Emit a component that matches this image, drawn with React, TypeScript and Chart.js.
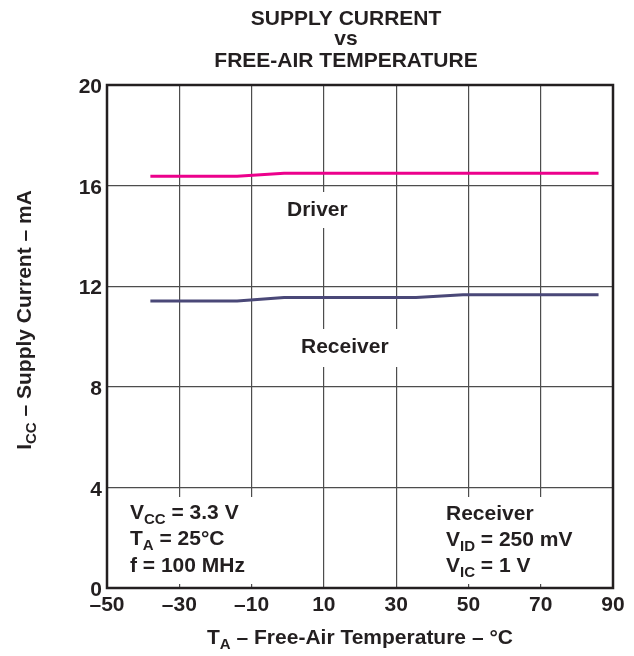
import React, { useEffect, useRef } from 'react';
import { Chart, registerables } from 'chart.js';

Chart.register(...registerables);

// ---- data ----
const driverTemps = [-38, -14, -1, 86];
const driverCurrent = [16.37, 16.37, 16.49, 16.49];
const receiverTemps = [-38, -14, -1, 35.5, 48.5, 86];
const receiverCurrent = [11.41, 11.41, 11.55, 11.55, 11.66, 11.66];
const xTicks = [-50, -30, -10, 10, 30, 50, 70, 90];
const yTicks = [0, 4, 8, 12, 16, 20];
const titleLines = ['SUPPLY CURRENT', 'vs', 'FREE-AIR TEMPERATURE'];
const seriesNames = ['Driver', 'Receiver'];

const FONT = '"Liberation Sans", Arial, Helvetica, sans-serif';
const TEXT = '#231f20';
const GRID = '#4d4d4d';
const PINK = '#ec008c';
const SLATE = '#4a4878';

type Part = { t: string; sub?: boolean };

function drawRich(
  ctx: CanvasRenderingContext2D,
  parts: Part[],
  x: number,
  y: number,
  align: 'left' | 'center',
  size = 21
) {
  const subSize = Math.round(size * 0.72);
  let w = 0;
  for (const p of parts) {
    ctx.font = `bold ${p.sub ? subSize : size}px ${FONT}`;
    w += ctx.measureText(p.t).width;
  }
  let cx = align === 'center' ? x - w / 2 : x;
  ctx.textAlign = 'left';
  ctx.textBaseline = 'alphabetic';
  ctx.fillStyle = TEXT;
  for (const p of parts) {
    ctx.font = `bold ${p.sub ? subSize : size}px ${FONT}`;
    ctx.fillText(p.t, cx, p.sub ? y + size * 0.22 : y);
    cx += ctx.measureText(p.t).width;
  }
}

type Block = { box: [number, number, number, number]; x: number; baselines: number[]; lines: Part[][] };

const blocks: Block[] = [
  { box: [278, 192, 78, 36], x: 287, baselines: [216], lines: [[{ t: seriesNames[0] }]] },
  { box: [292, 329, 114, 38], x: 301, baselines: [353], lines: [[{ t: seriesNames[1] }]] },
  {
    box: [115, 497, 195, 87],
    x: 130,
    baselines: [519, 545, 572],
    lines: [
      [{ t: 'V' }, { t: 'CC', sub: true }, { t: ' = 3.3 V' }],
      [{ t: 'T' }, { t: 'A', sub: true }, { t: ' = 25\u00B0C' }],
      [{ t: 'f = 100 MHz' }],
    ],
  },
  {
    box: [415, 497, 190, 87],
    x: 446,
    baselines: [520, 546, 572],
    lines: [
      [{ t: 'Receiver' }],
      [{ t: 'V' }, { t: 'ID', sub: true }, { t: ' = 250 mV' }],
      [{ t: 'V' }, { t: 'IC', sub: true }, { t: ' = 1 V' }],
    ],
  },
];

const decorPlugin = {
  id: 'decor',
  beforeDraw(chart: any) {
    const ctx = chart.ctx as CanvasRenderingContext2D;
    ctx.save();
    ctx.fillStyle = '#ffffff';
    ctx.fillRect(0, 0, chart.width, chart.height);
    ctx.restore();
  },
  afterDraw(chart: any) {
    const ctx = chart.ctx as CanvasRenderingContext2D;
    const a = chart.chartArea;
    ctx.save();
    // annotation blocks with white backing
    for (const b of blocks) {
      ctx.fillStyle = '#ffffff';
      ctx.fillRect(b.box[0], b.box[1], b.box[2], b.box[3]);
      b.lines.forEach((ln, i) => drawRich(ctx, ln, b.x, b.baselines[i], 'left'));
    }
    // frame
    ctx.strokeStyle = TEXT;
    ctx.lineWidth = 2.5;
    ctx.strokeRect(a.left, a.top, a.right - a.left, a.bottom - a.top);
    // title
    const tb = [25, 45, 67];
    titleLines.forEach((t, i) => drawRich(ctx, [{ t }], 346, tb[i], 'center'));
    // x axis title
    drawRich(
      ctx,
      [{ t: 'T' }, { t: 'A', sub: true }, { t: ' \u2013 Free-Air Temperature \u2013 \u00B0C' }],
      360,
      644,
      'center'
    );
    // y axis title
    ctx.save();
    ctx.translate(31, 320);
    ctx.rotate(-Math.PI / 2);
    drawRich(ctx, [{ t: 'I' }, { t: 'CC', sub: true }, { t: ' \u2013 Supply Current \u2013 mA' }], 0, 0, 'center');
    ctx.restore();
    ctx.restore();
  },
};

export default function App() {
  const ref = useRef<HTMLCanvasElement | null>(null);
  useEffect(() => {
    if (!ref.current) return;
    const chart = new Chart(ref.current, {
      type: 'line',
      data: {
        datasets: [
          {
            label: seriesNames[0],
            data: driverTemps.map((x, i) => ({ x, y: driverCurrent[i] })),
            borderColor: PINK,
            borderWidth: 3,
            pointRadius: 0,
            fill: false,
            tension: 0,
          },
          {
            label: seriesNames[1],
            data: receiverTemps.map((x, i) => ({ x, y: receiverCurrent[i] })),
            borderColor: SLATE,
            borderWidth: 3,
            pointRadius: 0,
            fill: false,
            tension: 0,
          },
        ],
      },
      options: {
        animation: false,
        responsive: false,
        events: [],
        layout: { padding: { top: 85, right: 21, bottom: 0, left: 0 } },
        plugins: { legend: { display: false }, tooltip: { enabled: false }, title: { display: false } },
        scales: {
          x: {
            type: 'linear',
            min: -50,
            max: 90,
            afterBuildTicks: (s: any) => {
              s.ticks = xTicks.map((v) => ({ value: v }));
            },
            afterFit: (s: any) => {
              s.height = 68;
            },
            grid: { color: GRID, lineWidth: 1.2, drawTicks: false },
            border: { display: false },
            ticks: {
              padding: 5,
              color: TEXT,
              font: { family: FONT, size: 21, weight: 'bold' },
              maxRotation: 0,
              autoSkip: false,
              callback: (v: any) => (Number(v) < 0 ? '\u2013' + Math.abs(Number(v)) : String(v)),
            },
          },
          y: {
            type: 'linear',
            min: 0,
            max: 20,
            afterBuildTicks: (s: any) => {
              s.ticks = yTicks.map((v) => ({ value: v }));
            },
            afterFit: (s: any) => {
              s.width = 107;
            },
            grid: { color: GRID, lineWidth: 1.2, drawTicks: false },
            border: { display: false },
            ticks: {
              padding: 5,
              labelOffset: 2.5,
              color: TEXT,
              font: { family: FONT, size: 21, weight: 'bold' },
              autoSkip: false,
            },
          },
        },
      },
      plugins: [decorPlugin],
    } as any);
    return () => chart.destroy();
  }, []);
  return (
    <div style={{ position: 'fixed', left: 0, top: 0, width: 634, height: 656, background: '#fff' }}>
      <canvas ref={ref} width={634} height={656} style={{ width: 634, height: 656, display: 'block' }} />
    </div>
  );
}
